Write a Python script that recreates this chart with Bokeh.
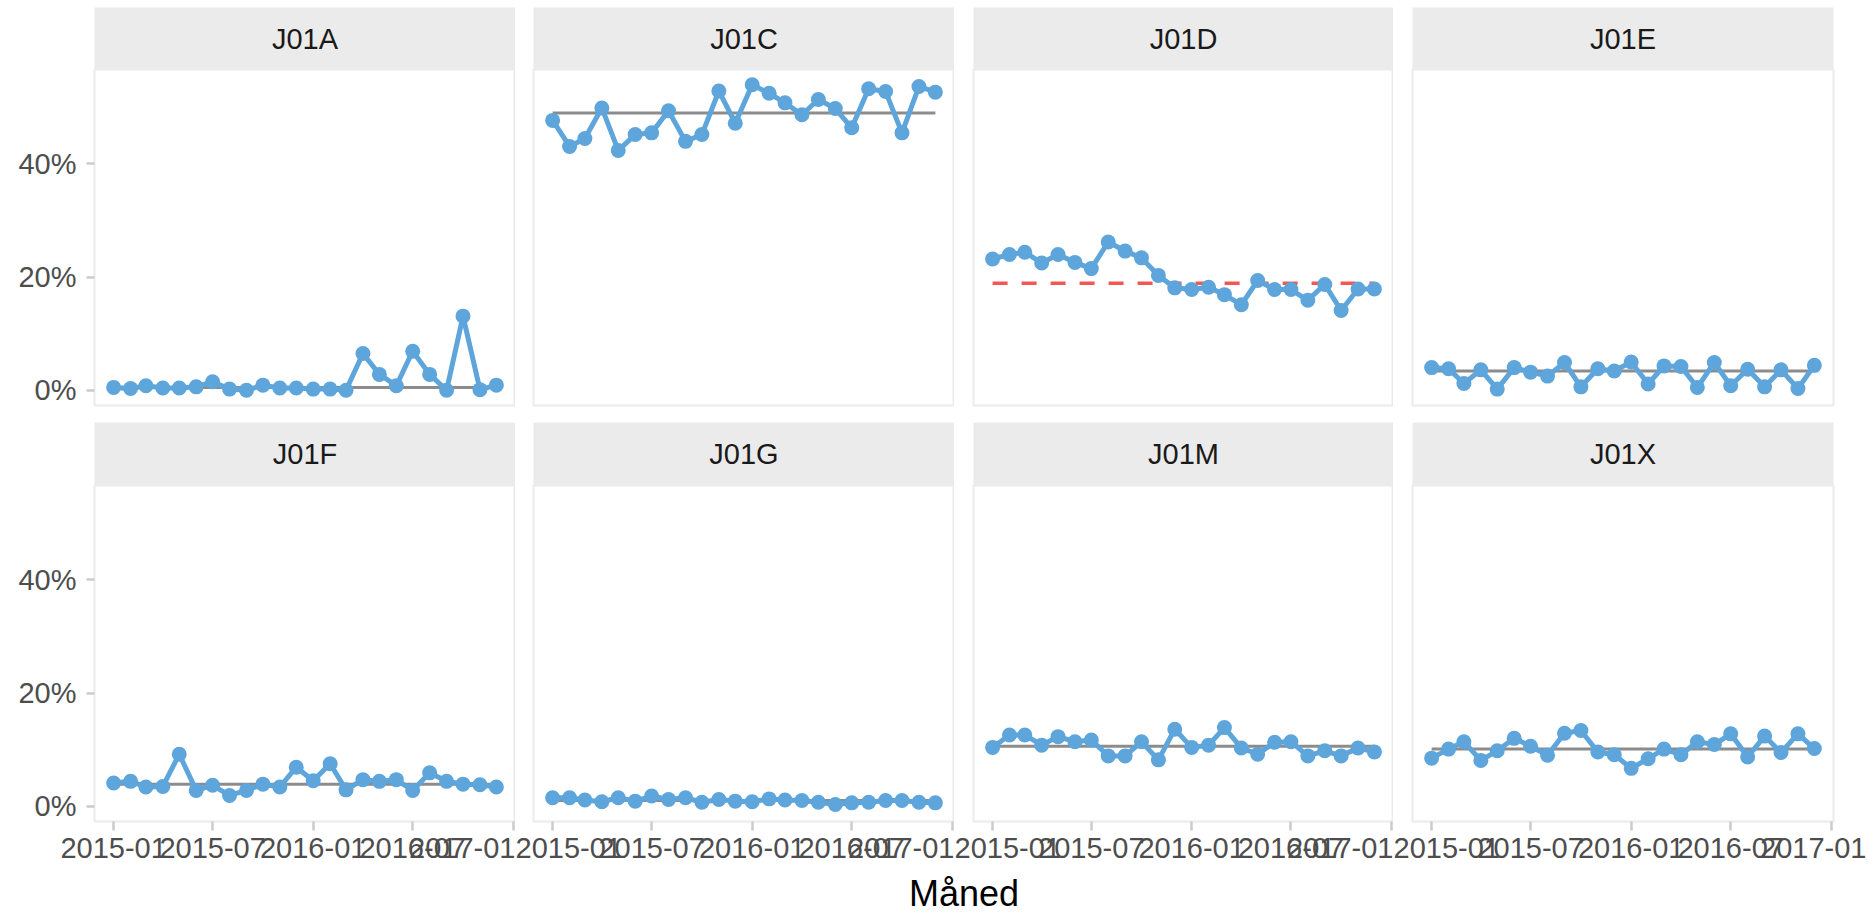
import pandas as pd
from bokeh.plotting import figure
from bokeh.layouts import row, column
from bokeh.models import Range1d, FixedTicker, DatetimeTickFormatter, PrintfTickFormatter
from bokeh.core.properties import value
from bokeh.embed import file_html
from bokeh.resources import INLINE

# ---------------- data ----------------
months = list(pd.date_range("2015-01-01", periods=24, freq="MS").to_pydatetime())
panel_names = ["J01A", "J01C", "J01D", "J01E", "J01F", "J01G", "J01M", "J01X"]

j01a = [0.5, 0.3, 0.8, 0.4, 0.4, 0.6, 1.5, 0.2, 0.0, 0.9, 0.4, 0.4,
        0.2, 0.2, 0.0, 6.5, 2.8, 0.8, 6.9, 2.8, 0.0, 13.1, 0.1, 0.9]
j01c = [47.7, 43.1, 44.5, 49.9, 42.4, 45.2, 45.5, 49.4, 44.0, 45.2, 52.9, 47.2,
        54.0, 52.5, 50.8, 48.7, 51.4, 49.8, 46.4, 53.3, 52.8, 45.5, 53.7, 52.7]
j01d = [23.2, 24.0, 24.4, 22.5, 24.0, 22.6, 21.5, 26.2, 24.6, 23.4, 20.3, 18.1,
        17.8, 18.2, 16.9, 15.1, 19.4, 17.8, 17.8, 15.9, 18.7, 14.1, 17.9, 17.9]
j01e = [4.0, 3.8, 1.2, 3.6, 0.2, 4.0, 3.2, 2.5, 4.9, 0.6, 3.8, 3.4,
        5.0, 1.1, 4.3, 4.2, 0.5, 4.9, 0.8, 3.7, 0.6, 3.6, 0.3, 4.4]
j01f = [4.1, 4.4, 3.4, 3.5, 9.2, 2.8, 3.7, 1.9, 2.8, 3.9, 3.4, 6.9,
        4.5, 7.5, 2.9, 4.7, 4.4, 4.7, 2.8, 5.9, 4.4, 3.9, 3.8, 3.4]
j01g = [1.5, 1.5, 1.1, 0.8, 1.5, 0.9, 1.8, 1.2, 1.5, 0.7, 1.2, 0.9,
        0.8, 1.3, 1.1, 1.0, 0.7, 0.3, 0.6, 0.7, 1.0, 1.0, 0.7, 0.6]
j01m = [10.4, 12.6, 12.6, 10.8, 12.3, 11.4, 11.7, 8.9, 8.9, 11.4, 8.2, 13.6,
        10.4, 10.8, 13.9, 10.3, 9.2, 11.3, 11.4, 8.9, 9.8, 8.9, 10.3, 9.6]
j01x = [8.5, 10.1, 11.4, 8.1, 9.8, 12.0, 10.6, 9.0, 12.9, 13.4, 9.6, 9.1,
        6.7, 8.4, 10.1, 9.1, 11.4, 10.9, 12.8, 8.7, 12.4, 9.5, 12.8, 10.2]
series = [j01a, j01c, j01d, j01e, j01f, j01g, j01m, j01x]

centre_line = [0.5, 49.0, 18.9, 3.4, 3.9, 1.0, 10.6, 10.1]
signal_panels = ["J01D"]

x_tick_dates = ["2015-01-01", "2015-07-01", "2016-01-01", "2016-07-01", "2017-01-01"]
y_tick_values = [0, 20, 40]
x_axis_title = "Måned"

# ---------------- style ----------------
FONT = "Liberation Sans"
BLUE = "#5DA5DA"
GREY = "#8C8C8C"
RED = "#F15854"
STRIP = "#EBEBEB"
BORDER = "#EBEBEB"
TICK = "#CCCCCC"

col_left = [94, 18, 19, 19]
col_frame = [421, 421, 420, 421]
col_right = [0, 0, 0, 33]
strip_top = [7, 0]
strip_h = [62, 63]
frame_h = 336
bottom_b = [17, 50]
title_h = 43

# ranges (ggplot-style 5% expansion)
x0, x1 = months[0], months[-1]
xpad = (x1 - x0) * 0.05
allv = [v for s in series for v in s]
lo, hi = min(allv), max(allv)
ypad = (hi - lo) * 0.05
x_tick_ms = [pd.Timestamp(t).value / 1e6 for t in x_tick_dates]


def style_axis(ax):
    ax.axis_line_color = None
    ax.major_tick_line_color = TICK
    ax.major_tick_line_width = 2.5
    ax.major_tick_in = 0
    ax.minor_tick_line_color = None
    ax.major_label_text_font = FONT
    ax.major_label_text_font_size = "29px"
    ax.major_label_text_color = "#4D4D4D"


def make_strip(i):
    r, c = divmod(i, 4)
    w = col_left[c] + col_frame[c] + col_right[c]
    s = figure(width=w, height=strip_h[r] + strip_top[r],
               x_range=Range1d(0, 1), y_range=Range1d(0, 1),
               x_axis_location=None, y_axis_location=None, toolbar_location=None,
               output_backend="svg", title=None,
               min_border_left=col_left[c], min_border_right=col_right[c],
               min_border_top=strip_top[r], min_border_bottom=0)
    s.grid.visible = False
    s.background_fill_color = STRIP
    s.border_fill_color = "white"
    s.outline_line_color = None
    s.text(x=[0.5], y=[0.5], text=[panel_names[i]], text_align="center",
           text_baseline="middle", text_font=value(FONT), text_font_size="29px",
           text_color="#1A1A1A")
    return s


def make_panel(i):
    r, c = divmod(i, 4)
    w = col_left[c] + col_frame[c] + col_right[c]
    h = frame_h + bottom_b[r]
    p = figure(width=w, height=h,
               x_range=Range1d(x0 - xpad, x1 + xpad), y_range=Range1d(lo - ypad, hi + ypad),
               x_axis_type="datetime",
               x_axis_location="below" if r == 1 else None,
               y_axis_location="left" if c == 0 else None,
               toolbar_location=None, output_backend="svg", title=None,
               min_border_left=col_left[c], min_border_right=col_right[c],
               min_border_top=0, min_border_bottom=bottom_b[r])
    p.background_fill_color = "white"
    p.border_fill_color = "white"
    p.outline_line_color = BORDER
    p.outline_line_width = 2
    p.grid.visible = False

    name = panel_names[i]
    vals = series[i]
    cl = centre_line[i]
    if name in signal_panels:
        p.line([months[0], months[-1]], [cl, cl], line_color=RED, line_width=3.5,
               line_dash="15 14")
    else:
        p.line([months[0], months[-1]], [cl, cl], line_color=GREY, line_width=3)
    p.line(months, vals, line_color=BLUE, line_width=5)
    p.scatter(months, vals, size=15, fill_color=BLUE, line_color=None)

    if r == 1:
        ax = p.xaxis[0]
        style_axis(ax)
        ax.ticker = FixedTicker(ticks=x_tick_ms)
        ax.formatter = DatetimeTickFormatter(days="%Y-%m", months="%Y-%m", years="%Y-%m")
        ax.major_tick_out = 9
        ax.major_label_standoff = 7
    if c == 0:
        ax = p.yaxis[0]
        style_axis(ax)
        ax.ticker = FixedTicker(ticks=y_tick_values)
        ax.formatter = PrintfTickFormatter(format="%d%%")
        ax.major_tick_out = 8
        ax.major_label_standoff = 10
    return p


rows = []
for r in range(2):
    cols = []
    for c in range(4):
        i = r * 4 + c
        cols.append(column(make_strip(i), make_panel(i), spacing=0))
    rows.append(row(*cols, spacing=0))

total_w = sum(col_left) + sum(col_frame) + sum(col_right)
title_fig = figure(width=total_w, height=title_h, x_range=Range1d(0, 1),
                   y_range=Range1d(0, title_h),
                   x_axis_location=None, y_axis_location=None, toolbar_location=None,
                   output_backend="svg", title=None,
                   min_border_left=col_left[0], min_border_right=col_right[3],
                   min_border_top=0, min_border_bottom=0)
title_fig.grid.visible = False
title_fig.outline_line_color = None
title_fig.background_fill_color = "white"
title_fig.border_fill_color = "white"
title_fig.text(x=[0.5], y=[title_h / 2], text=[x_axis_title], text_align="center",
               text_baseline="middle", text_font=value(FONT), text_font_size="36px",
               text_color="black")

layout = column(rows[0], rows[1], title_fig, spacing=0)

with open("out.html", "w") as f:
    f.write(file_html(layout, INLINE))
